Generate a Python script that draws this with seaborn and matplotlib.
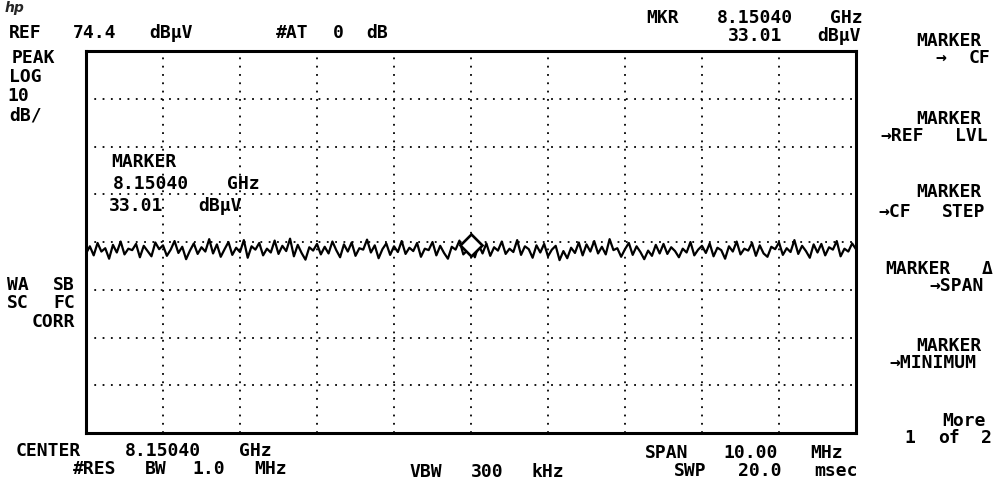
import re
import numpy as np
import pandas as pd
import matplotlib
matplotlib.use("Agg")
import matplotlib.pyplot as plt
import seaborn as sns

# ---------------- data ----------------
ref_level_dbuv = 74.4
db_per_div = 10
n_xdiv = 10
n_ydiv = 8
center_ghz = 8.15040
span_mhz = 10.00
marker_freq_ghz = 8.15040
marker_level_dbuv = 33.01

trace_dbuv = [
    32.0, 33.5, 31.6, 34.2, 32.4, 33.1, 30.9, 33.8, 32.2, 34.5, 31.8, 33.0, 32.7, 34.0, 31.2, 33.6, 32.5, 31.4, 34.3, 32.9,
    33.7, 31.5, 32.8, 34.6, 32.1, 33.4, 30.8, 32.6, 34.1, 31.9, 33.3, 32.4, 35.0, 32.0, 33.9, 31.3, 32.9, 34.4, 31.7, 33.2,
    32.3, 34.8, 31.1, 33.5, 32.8, 34.2, 31.6, 33.0, 32.2, 34.7, 31.9, 33.6, 32.5, 35.1, 31.4, 33.8, 32.1, 30.7, 33.3, 32.6,
    34.0, 31.8, 33.4, 32.0, 34.5, 32.7, 31.2, 33.9, 32.4, 34.3, 31.5, 33.1, 32.8, 34.9, 32.2, 33.7, 31.0, 32.9, 34.1, 31.7,
    33.5, 32.3, 34.6, 31.9, 33.2, 32.5, 34.2, 31.3, 33.0, 32.7, 34.4, 31.6, 33.6, 32.1, 30.9, 33.4, 32.8, 34.7, 31.8, 32.6,
    33.01, 31.2, 33.8, 32.0, 34.1, 31.5, 33.3, 32.6, 34.5, 31.9, 33.0, 32.3, 34.8, 31.7, 33.5, 32.9, 31.1, 33.7, 32.2, 34.0,
    31.4, 32.8, 33.6, 30.6, 32.5, 31.0, 33.2, 32.1, 34.3, 31.6, 33.9, 32.4, 34.6, 32.0, 33.4, 31.8, 35.0, 32.7, 33.1, 31.3,
    32.9, 34.2, 31.7, 33.5, 32.3, 30.8, 32.6, 31.5, 33.8, 32.0, 34.0, 31.9, 33.3, 32.5, 31.2, 33.0, 32.2, 34.4, 31.6, 32.8,
    33.6, 32.1, 34.1, 31.4, 33.2, 32.7, 30.9, 33.5, 32.4, 34.5, 31.8, 33.0, 32.6, 34.2, 31.5, 33.7, 32.0, 31.3, 33.4, 32.9,
    34.3, 31.7, 33.1, 32.3, 34.8, 31.9, 33.6, 32.5, 31.1, 33.9, 32.2, 34.0, 31.6, 33.3, 32.8, 34.6, 31.4, 33.0, 32.4, 34.1,
    32.9,
]

# ---------------- style ----------------
sns.set_style("white")
plt.rcParams['font.family'] = ['DejaVu Sans Mono', 'DejaVu Sans']

W, H = 997, 491
fig = plt.figure(figsize=(W / 100, H / 100), dpi=100)
fig.patch.set_facecolor("white")

L, R, T, B = 86, 856, 51, 433
ax = fig.add_axes([L / W, 1 - B / H, (R - L) / W, (B - T) / H])

f0 = center_ghz - span_mhz / 2000.0
f1 = center_ghz + span_mhz / 2000.0
bottom_level = ref_level_dbuv - n_ydiv * db_per_div

df = pd.DataFrame({"freq": np.linspace(f0, f1, len(trace_dbuv)), "level": trace_dbuv})
sns.lineplot(data=df, x="freq", y="level", ax=ax, color="black", linewidth=1.6)
ax.plot([marker_freq_ghz], [marker_level_dbuv + 0.7], marker="D", ms=11, mfc="white",
        mec="black", mew=1.9, zorder=5)

ax.set_xlim(f0, f1)
ax.set_ylim(bottom_level, ref_level_dbuv)
ax.set_xticks(np.linspace(f0, f1, n_xdiv + 1))
ax.set_yticks(np.linspace(bottom_level, ref_level_dbuv, n_ydiv + 1))
ax.tick_params(length=0, labelbottom=False, labelleft=False)
ax.set_xlabel("")
ax.set_ylabel("")
ax.grid(True, color="black", linestyle=(0, (1, 3.6)), linewidth=1.3)
for s in ax.spines.values():
    s.set_visible(True)
    s.set_color("black")
    s.set_linewidth(2.2)

# ---------------- text ----------------
PITCH = 15.3
GLYPH = 10.5
FS = 13


def hp_text(s, x, y, align="left", size=FS):
    n = len(s)
    x0 = x if align == "left" else x - (n - 1) * PITCH - GLYPH
    for m in re.finditer(r"\S+", s):
        left = x0 + m.start() * PITCH
        right = x0 + (m.end() - 1) * PITCH + GLYPH
        fig.text((left + right) / 2 / W, 1 - y / H, m.group(), fontsize=size,
                 fontweight="bold", ha="center", va="center", color="black")


fig.text(5 / W, 1 - 8 / H, "hp", fontsize=10, fontweight="bold", fontstyle="italic",
         family=["DejaVu Sans"], ha="left", va="center")

hp_text("REF 74.4 dBµV", 5, 33)
hp_text("#AT 0 dB", 272, 33)
hp_text("MKR 8.15040 GHz", 867, 18, "right")
hp_text("33.01 dBµV", 867, 36, "right")

for i, s in enumerate(["PEAK", "LOG", "10", "dB/"]):
    hp_text(s, 5, 58 + i * 19)
hp_text("WA SB", 5, 285)
hp_text("SC FC", 5, 303)
hp_text("CORR", 82, 322, "right")

hp_text("MARKER", 100, 162)
hp_text("8.15040 GHz", 100, 184)
hp_text("33.01 dBµV", 100, 206)

soft = [("MARKER", 41), ("→ CF", 58), ("MARKER", 119), ("→REF LVL", 136),
        ("MARKER", 192), ("→CF STEP", 212), ("MARKER Δ", 269), ("→SPAN", 286),
        ("MARKER", 346), ("→MINIMUM", 363), ("More", 421), ("1 of 2", 438)]
for s, y in soft:
    hp_text(s, 992, y, "right")

hp_text("CENTER 8.15040 GHz", 5, 451)
hp_text("#RES BW 1.0 MHz", 66, 469)
hp_text("VBW 300 kHz", 405, 472)
hp_text("SPAN 10.00 MHz", 638, 453)
hp_text("SWP 20.0 msec", 670, 471)

fig.savefig("out.png", dpi=100, facecolor="white")
